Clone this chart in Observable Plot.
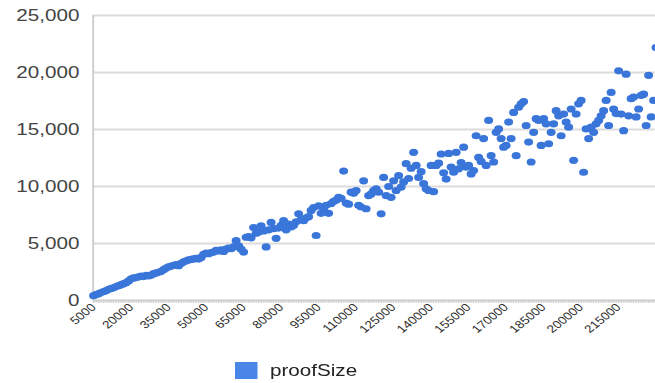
<!DOCTYPE html>
<html>
<head>
<meta charset="utf-8">
<script src="https://cdn.jsdelivr.net/npm/d3@7"></script>
<script src="https://cdn.jsdelivr.net/npm/@observablehq/plot@0.6"></script>
<style>
  html, body { margin: 0; padding: 0; background: #fff; overflow: hidden; width: 655px; height: 383px; }
  #wrap { width: 524px; transform: scaleX(1.25); transform-origin: 0 0; font-family: "Liberation Sans", Arial, sans-serif; }
  #legend { position: relative; height: 38px; }
  #legend .sw { position: absolute; left: 188px; top: 17px; width: 18px; height: 17px; background: #4a86e8; }
  #legend .lb { position: absolute; left: 216px; top: 15px; font-size: 16.5px; color: #222; line-height: 20px; }
</style>
</head>
<body>
<div id="wrap">
  <div id="chart"></div>
  <div id="legend"><div class="sw"></div><div class="lb">proofSize</div></div>
</div>
<script>
// category values (x)
const sizes = [
  5000,6000,7000,8000,9000,10000,11000,12000,13000,14000,
  15000,16000,17000,18000,19000,20000,21000,22000,23000,24000,
  25000,26000,27000,28000,29000,30000,31000,32000,33000,34000,
  35000,36000,37000,38000,39000,40000,41000,42000,43000,44000,
  45000,46000,47000,48000,49000,50000,51000,52000,53000,54000,
  55000,56000,57000,58000,59000,60000,61000,62000,63000,64000,
  65000,66000,67000,68000,69000,70000,71000,72000,73000,74000,
  75000,76000,77000,78000,79000,80000,81000,82000,83000,84000,
  85000,86000,87000,88000,89000,90000,91000,92000,93000,94000,
  95000,96000,97000,98000,99000,100000,101000,102000,103000,104000,
  105000,106000,107000,108000,109000,110000,111000,112000,113000,114000,
  115000,116000,117000,118000,119000,120000,121000,122000,123000,124000,
  125000,126000,127000,128000,129000,130000,131000,132000,133000,134000,
  135000,136000,137000,138000,139000,140000,141000,142000,143000,144000,
  145000,146000,147000,148000,149000,150000,151000,152000,153000,154000,
  155000,156000,157000,158000,159000,160000,161000,162000,163000,164000,
  165000,166000,167000,168000,169000,170000,171000,172000,173000,174000,
  175000,176000,177000,178000,179000,180000,181000,182000,183000,184000,
  185000,186000,187000,188000,189000,190000,191000,192000,193000,194000,
  195000,196000,197000,198000,199000,200000,201000,202000,203000,204000,
  205000,206000,207000,208000,209000,210000,211000,212000,213000,214000,
  215000,216000,217000,218000,219000,220000,221000,222000,223000,224000,
  225000,226000,227000,228000,229000,230000
];
// series values (proofSize)
const proofSize = [
  420,520,600,700,790,870,980,1060,1120,1230,
  1300,1390,1480,1560,1720,1900,1980,2010,2080,2150,
  2100,2200,2160,2230,2350,2420,2480,2560,2700,2850,
  2950,3020,3080,3150,3050,3250,3400,3480,3560,3600,
  3650,3700,3630,3780,4050,4150,4100,
  4200,4250,4400,4350,4450,4300,4500,4600,4550,4700,
  5250,4800,4500,4250,5550,5600,5500,6400,5900,6000,
  6550,6100,4700,6200,6850,6300,5450,6350,6600,7000,
  6200,6700,6450,6600,6900,7600,7100,7000,7250,7350,
  7900,8150,5700,
  8300,7650,8000,8350,7650,8500,8700,8800,9050,8950,
  11350,8550,8450,9500,9400,9650,8350,8200,10500,8050,
  9200,9350,9650,9800,9500,7600,10800,9200,10000,9050,
  10500,9650,10950,9950,10400,12000,10700,11600,13000,11850,
  10800,11300,10250,9800,9650,
  11850,9550,11850,12050,12850,11200,10650,12900,11700,11250,
  13000,11550,12100,13450,11700,11850,11100,11400,14450,12550,
  12200,14200,11850,15800,12700,12150,14750,15050,14200,13450,
  13600,15650,14200,16500,12700,16950,17250,17450,15350,13900,
  12150,14750,15950,15800,
  13600,15950,15500,13750,14750,15500,16650,16200,14450,16350,
  15650,15200,16800,12300,16350,17250,17550,11250,15050,14200,
  15200,14750,15500,15800,16200,16650,17550,15350,18250,16800,
  16400,20150,16350,14900,19850,16200,17700,17850,16100,16800,
  18000,18100,15350,19750,16100,17550,22200
];
// tick labels
const xTickLabels = [5000,20000,35000,50000,65000,80000,95000,110000,125000,140000,155000,170000,185000,200000,215000];
const yTicks = [0,5000,10000,15000,20000,25000];

const data = sizes.map((s, i) => ({size: s, proofSize: proofSize[i]}));

const chart = Plot.plot({
  width: 524,
  height: 345,
  marginLeft: 74,
  marginRight: 0,
  marginTop: 15,
  marginBottom: 45,
  style: {fontFamily: "'Liberation Sans', Arial, sans-serif", background: "#fff"},
  x: {domain: [4800, 229800], label: null},
  y: {domain: [0, 25000], label: null},
  marks: [
    Plot.gridY(yTicks, {stroke: "#dcdcdc", strokeWidth: 1.8, strokeOpacity: 1}),
    Plot.ruleX([4800], {stroke: "#d0d0d0", strokeWidth: 1.6}),
    Plot.ruleY([0], {stroke: "#cccccc", strokeWidth: 1.6}),
    Plot.axisX(sizes, {tickSize: 3, stroke: "#cfcfcf", fill: "none", label: null}),
    Plot.axisX(xTickLabels, {tickSize: 0, tickRotate: -45, tickPadding: 5, fontSize: 10.8, fill: "#2a2a2a", tickFormat: d3.format("d"), label: null}),
    Plot.axisY(yTicks, {tickSize: 0, tickPadding: 11, fontSize: 16.5, fill: "#444", tickFormat: d3.format(","), label: null}),
    Plot.dot(data, {x: "size", y: "proofSize", r: 3.6, fill: "#3a76d9", stroke: "none"})
  ]
});
document.getElementById("chart").appendChild(chart);
</script>
</body>
</html>
